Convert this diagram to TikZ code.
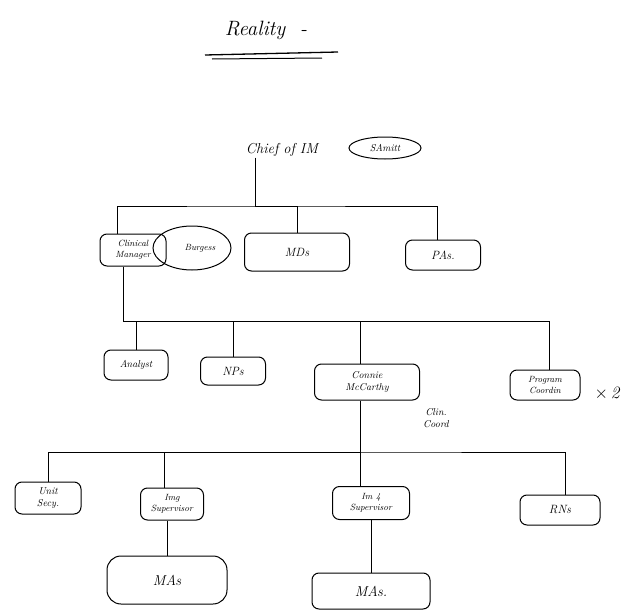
\documentclass[tikz,border=0pt]{standalone}
\usetikzlibrary{shapes.geometric}
\begin{document}
\begin{tikzpicture}[x=1pt,y=-1pt,
  ink/.style={line width=1pt,black},
  unit/.style={ink,draw,rounded corners=7pt,align=center,font=\itshape\large,inner sep=2pt},
  twoline/.style={font=\itshape\small,inner sep=1pt},
  tag/.style={align=center,font=\itshape\small,inner sep=1pt},
  link/.style={ink}]
\useasboundingbox (0,0) rectangle (625,613);

% heading
\node[font=\itshape\huge] (title) at (266,30) {Reality\ \ -};
\draw[ink,line width=1.3pt] (205,55) -- (338,52);
\draw[ink] (212,59) -- (322,58);

% head of department
\node[tag,font=\itshape\Large] (chief) at (282,150) {Chief of IM};
\node[ink,draw,ellipse,minimum width=72pt,minimum height=22pt,inner sep=0pt,font=\itshape\normalsize] (samitt) at (385,148) {SAmitt};

% first level
\node[unit,twoline,minimum width=66pt,minimum height=32pt] (cm) at (133,250) {Clinical\\Manager};
\node[ink,draw,ellipse,minimum width=78pt,minimum height=44pt,inner sep=0pt,font=\itshape\small] (burgess) at (192,248) {\hspace*{16pt}Burgess};
\node[unit,minimum width=105pt,minimum height=38pt] (mds) at (297,252) {MDs};
\node[unit,minimum width=75pt,minimum height=30pt] (pas) at (443,255) {PAs.};

\coordinate (b1) at (255,206);
\draw[link] (chief.south -| b1) -- (b1);
\draw[link] ([xshift=-16pt]cm.north) |- (b1) -| ([xshift=-6pt]pas.north);
\draw[link] (b1) -| (mds.north);

% second level
\node[unit,minimum width=64pt,minimum height=30pt,font=\itshape\normalsize] (analyst) at (136,365) {Analyst};
\node[unit,minimum width=65pt,minimum height=28pt] (nps) at (233,371) {NPs};
\node[unit,twoline,minimum width=105pt,minimum height=36pt,font=\itshape\normalsize] (connie) at (367,382) {Connie\\McCarthy};
\node[tag,font=\itshape\normalsize] (clin) at (436,418) {Clin.\\Coord};
\node[unit,twoline,minimum width=70pt,minimum height=30pt] (prog) at (545,385) {Program\\Coordin};
\node[tag,font=\itshape\LARGE] (times) at (607,393) {$\times$\,2};

\coordinate (b2) at (123,321);
\draw[link] ([xshift=-10pt]cm.south) -- (b2) -| ([xshift=4pt]prog.north);
\draw[link] (b2) -| (analyst.north);
\draw[link] (b2) -| (nps.north);
\draw[link] (b2) -| ([xshift=-7pt]connie.north);

% third level
\node[unit,twoline,minimum width=66pt,minimum height=32pt,font=\itshape\normalsize] (secy) at (48,498) {Unit\\Secy.};
\node[unit,twoline,minimum width=63pt,minimum height=32pt] (img) at (172,504) {Img\\Supervisor};
\node[unit,twoline,minimum width=77pt,minimum height=33pt] (imf) at (371,503) {Im 4\\Supervisor};
\node[unit,minimum width=80pt,minimum height=30pt] (rns) at (560,510) {RNs};

\coordinate (b3) at (360,452);
\draw[link] ([xshift=-7pt]connie.south) -- (b3);
\draw[link] (secy.north) |- (b3) -| ([xshift=5pt]rns.north);
\draw[link] (b3) -| ([xshift=-8pt]img.north);
\draw[link] (b3) -- ([xshift=-11pt]imf.north);

% fourth level
\node[unit,minimum width=120pt,minimum height=48pt,rounded corners=14pt,font=\itshape\Large] (mas1) at (167,580) {MAs};
\node[unit,minimum width=118pt,minimum height=36pt,font=\itshape\Large] (mas2) at (371,591) {MAs.};
\draw[link] ([xshift=-5pt]img.south) -- ([xshift=0pt]mas1.north);
\draw[link] (imf.south) -- (mas2.north);
\end{tikzpicture}
\end{document}
